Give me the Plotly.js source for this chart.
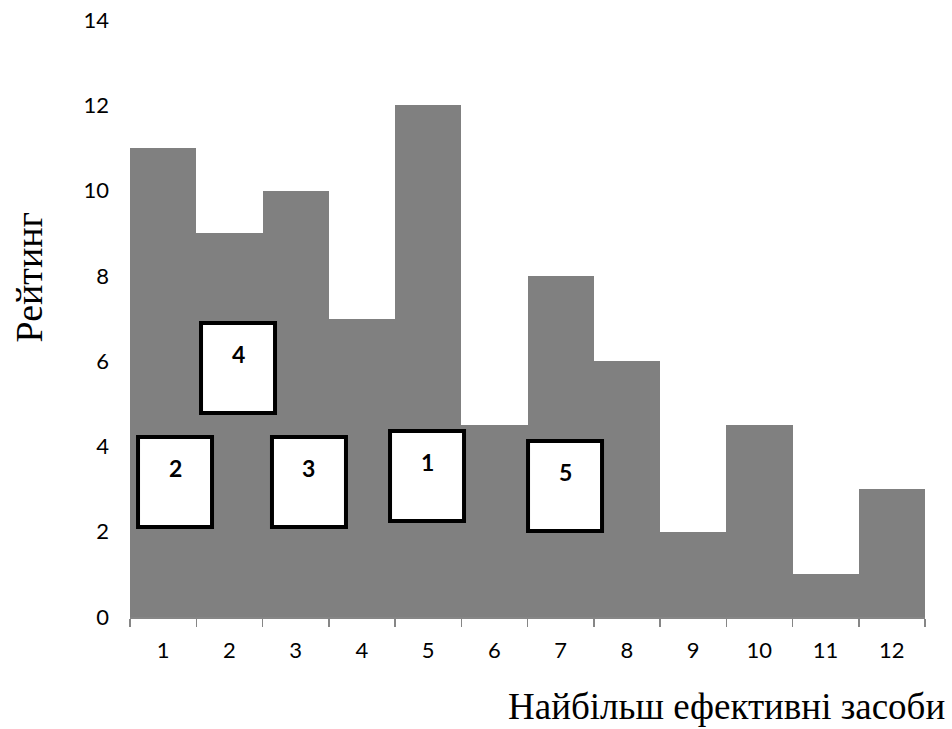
<!DOCTYPE html>
<html>
<head>
<meta charset="utf-8">
<script src="https://cdn.plot.ly/plotly-3.0.1.min.js"></script>
<style>html,body{margin:0;padding:0;background:#fff;}#chart{width:952px;height:729px;}</style>
</head>
<body>
<div id="chart"></div>
<script>
const categories = ['1','2','3','4','5','6','7','8','9','10','11','12'];
const ratings = [11, 9, 10, 7, 12, 4.5, 8, 6, 2, 4.5, 1, 3];
const boxLabels = ['4', '2', '3', '1', '5'];
const yTitle = 'Рейтинг';
const xTitle = 'Найбільш ефективні засоби';

// box placements (category-index x range, y range in data units)
const boxGeom = [
  {x0: 0.572, x1: 1.689, y0: 4.784, y1: 6.895},
  {x0: -0.379, x1: 0.738, y0: 2.111, y1: 4.221},
  {x0: 1.643, x1: 2.760, y0: 2.111, y1: 4.221},
  {x0: 3.425, x1: 4.542, y0: 2.251, y1: 4.362},
  {x0: 5.508, x1: 6.625, y0: 2.017, y1: 4.128}
];

const shapes = boxGeom.map(g => ({
  type: 'rect', xref: 'x', yref: 'y',
  x0: g.x0, x1: g.x1, y0: g.y0, y1: g.y1,
  fillcolor: '#ffffff', line: {color: '#000000', width: 4}, layer: 'above'
}));

const annotations = boxGeom.map((g, i) => ({
  xref: 'x', yref: 'y', x: (g.x0 + g.x1) / 2, y: g.y1,
  yanchor: 'middle', yshift: -31, showarrow: false,
  text: '<b>' + boxLabels[i] + '</b>',
  font: {family: 'Lato, "Open Sans", sans-serif', size: 23, color: '#000'}
}));

annotations.push({
  xref: 'paper', yref: 'paper', x: 1.0, xanchor: 'right', xshift: 22,
  y: 0, yanchor: 'middle', yshift: -89, showarrow: false,
  text: xTitle,
  font: {family: '"Liberation Serif", "Times New Roman", serif', size: 37, color: '#000'}
});
annotations.push({
  xref: 'paper', yref: 'paper', x: 0, xanchor: 'center', xshift: -102,
  y: 0.5, yanchor: 'middle', yshift: 41, textangle: -90, showarrow: false,
  text: yTitle,
  font: {family: '"Liberation Serif", "Times New Roman", serif', size: 38, color: '#000'}
});

const trace = {
  type: 'bar', x: categories, y: ratings,
  marker: {color: '#808080', line: {width: 0}},
  hoverinfo: 'x+y'
};

const layout = {
  width: 952, height: 729,
  margin: {l: 130, r: 27, t: 20, b: 112},
  paper_bgcolor: '#ffffff', plot_bgcolor: '#ffffff',
  bargap: 0, showlegend: false,
  font: {family: 'Lato, "Open Sans", sans-serif', size: 22, color: '#000'},
  xaxis: {
    type: 'category', tickson: 'boundaries', ticks: 'outside', ticklen: 8,
    tickcolor: '#868686', tickwidth: 1.5,
    showline: true, linecolor: '#868686', linewidth: 1.5,
    showgrid: false, zeroline: false, ticklabelstandoff: 13,
    tickfont: {size: 22, family: 'Lato, "Open Sans", sans-serif'}
  },
  yaxis: {
    range: [0, 14], dtick: 2, tick0: 0, showgrid: false, zeroline: false,
    showline: false, ticks: '', ticklabelstandoff: 20,
    tickfont: {size: 22, family: 'Lato, "Open Sans", sans-serif'}
  },
  shapes: shapes,
  annotations: annotations
};

Plotly.newPlot('chart', [trace], layout, {displayModeBar: false, staticPlot: true});
</script>
</body>
</html>
